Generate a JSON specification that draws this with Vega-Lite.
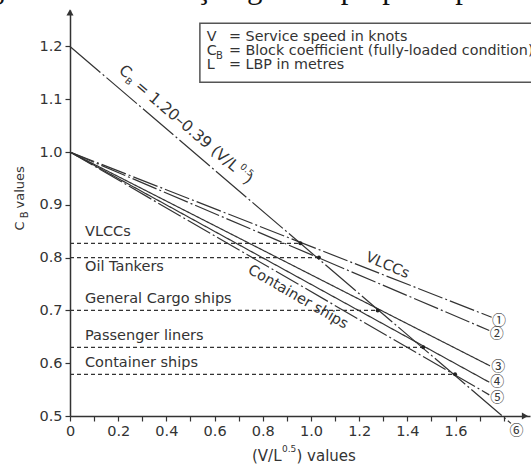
{
"$schema":"https://vega.github.io/schema/vega-lite/v6.json",
"width":460,"height":406,
"autosize":{"type":"none"},
"padding":{"left":70,"top":10,"right":1,"bottom":48},
"background":"white",
"config":{"view":{"stroke":null},"font":"DejaVu Sans","text":{"color":"#333"}},
"encoding":{
 "x":{"field":"x","type":"quantitative","scale":{"domain":[0,1.909],"nice":false,"zero":false},
  "axis":{"values":[0,0.1,0.2,0.3,0.4,0.5,0.6,0.7,0.8,0.9,1.0,1.1,1.2,1.3,1.4,1.5,1.6,1.7,1.8],
   "labelExpr":"(round(datum.value*10)%2==0 && datum.value<1.7) ? (datum.value==0 ? '0' : format(datum.value,'.1f')) : ''",
   "title":null,"grid":false,"tickSize":5,"tickWidth":1.2,"tickColor":"#333","domainColor":"#333","domainWidth":1.5,
   "labelFont":"DejaVu Sans","labelFontSize":14.5,"labelColor":"#333","labelPadding":3,"labelFlush":false,"labelOverlap":false,"labelBound":false}},
 "y":{"field":"y","type":"quantitative","scale":{"domain":[0.5,1.269],"nice":false,"zero":false},
  "axis":{"values":[0.5,0.6,0.7,0.8,0.9,1.0,1.1,1.2],"format":".1f","title":null,"grid":false,"tickSize":5,"tickWidth":1.2,
   "tickColor":"#333","domainColor":"#333","domainWidth":1.5,"labelFont":"DejaVu Sans","labelFontSize":14.5,"labelColor":"#333",
   "labelPadding":3,"labelFlush":false,"labelOverlap":false,"labelBound":false}}
},
"layer":[
 {"data":{"values":[{"x":-0.444,"y":1.292,"t":"Figura 6 – Intersecção gráfica proposta por"}]},
  "mark":{"type":"text","font":"Liberation Serif","fontSize":31,"align":"left","baseline":"alphabetic","color":"#111"},
  "encoding":{"text":{"field":"t"}}},
 {"data":{"values":[
   {"x":0,"x2":0.956,"y":0.827},{"x":0,"x2":1.033,"y":0.80},{"x":0,"x2":1.277,"y":0.70},
   {"x":0,"x2":1.466,"y":0.63},{"x":0,"x2":1.598,"y":0.579}]},
  "mark":{"type":"rule","color":"#333","strokeWidth":1.2,"strokeDash":[4,3]},
  "encoding":{"x2":{"field":"x2"}}},
 {"data":{"values":[
   {"id":"1","x":0,"y":1.0},{"id":"1","x":1.75,"y":0.687},
   {"id":"2","x":0,"y":1.0},{"id":"2","x":1.74,"y":0.662},
   {"id":"3","x":0,"y":1.0},{"id":"3","x":1.743,"y":0.595},
   {"id":"4","x":0,"y":1.0},{"id":"4","x":1.74,"y":0.564},
   {"id":"5","x":0,"y":1.0},{"id":"5","x":1.74,"y":0.54},
   {"id":"6","x":0,"y":1.2},{"id":"6","x":1.83,"y":0.486}]},
  "mark":{"type":"line","color":"#333","strokeWidth":1.2},
  "encoding":{"detail":{"field":"id","type":"nominal"},
   "strokeDash":{"field":"id","type":"nominal","legend":null,
    "scale":{"domain":["1","2","3","4","5","6"],"range":[[26,3,2,3],[26,3,2,3],[1,0],[1,0],[26,3,2,3],[40,3,2,3]]}}}},
 {"data":{"values":[{"x":0.956,"y":0.827},{"x":1.033,"y":0.80},{"x":1.277,"y":0.70},{"x":1.466,"y":0.63},{"x":1.598,"y":0.579}]},
  "mark":{"type":"point","filled":true,"size":16,"color":"#222","opacity":1}},
 {"data":{"values":[{"x":0.539,"x2":2.0,"y":1.244,"y2":1.132}]},
  "mark":{"type":"rect","fill":"white","stroke":"#555","strokeWidth":1.5},
  "encoding":{"x2":{"field":"x2"},"y2":{"field":"y2"}}},
 {"data":{"values":[
   {"x":0.0622,"y":0.848,"t":"VLCCs"},{"x":0.0622,"y":0.7816,"t":"Oil Tankers"},
   {"x":0.0622,"y":0.721,"t":"General Cargo ships"},{"x":0.0622,"y":0.651,"t":"Passenger liners"},
   {"x":0.0622,"y":0.600,"t":"Container ships"}]},
  "mark":{"type":"text","fontSize":14.5,"align":"left","baseline":"middle"},
  "encoding":{"text":{"field":"t"}}},
 {"data":{"values":[{"x":0.7552,"y":0.4237,"t":"(V/L"},{"x":0.9398,"y":0.4237,"t":") values"}]},
  "mark":{"type":"text","fontSize":15,"align":"left","baseline":"middle"},
  "encoding":{"text":{"field":"t"}}},
 {"data":{"values":[
   {"x":0.568,"y":1.2178,"t":"V"},{"x":0.568,"y":1.1913,"t":"C"},{"x":0.568,"y":1.1655,"t":"L"},
   {"x":0.660,"y":1.2178,"t":"= Service speed in knots"},
   {"x":0.660,"y":1.1913,"t":"= Block coefficient (fully-loaded condition)"},
   {"x":0.660,"y":1.1655,"t":"= LBP in metres"}]},
  "mark":{"type":"text","fontSize":14.3,"align":"left","baseline":"middle"},
  "encoding":{"text":{"field":"t"}}},
 {"data":{"values":[{"x":0.606,"y":1.182,"t":"B"}]},
  "mark":{"type":"text","fontSize":10,"align":"left","baseline":"middle"},
  "encoding":{"text":{"field":"t"}}},
 {"data":{"values":[{"x":0.8797,"y":0.4379,"t":"0.5"}]},
  "mark":{"type":"text","fontSize":9,"align":"left","baseline":"middle"},
  "encoding":{"text":{"field":"t"}}},
 {"data":{"values":[
   {"x":1.780,"y":0.680,"t":"①"},{"x":1.771,"y":0.656,"t":"②"},{"x":1.777,"y":0.593,"t":"③"},
   {"x":1.773,"y":0.564,"t":"④"},{"x":1.773,"y":0.535,"t":"⑤"},{"x":1.853,"y":0.471,"t":"⑥"}]},
  "mark":{"type":"text","fontSize":14,"align":"center","baseline":"middle","font":"Noto Sans CJK JP"},
  "encoding":{"text":{"field":"t"}}},
 {"data":{"values":[
   {"x":0.2126,"y":1.1591,"t":"C"},{"x":0.2801,"y":1.1290,"t":"= 1.20–0.39 (V/L"},{"x":0.730,"y":0.9519,"t":")"}]},
  "mark":{"type":"text","fontSize":15.5,"align":"left","baseline":"middle","angle":40.5},
  "encoding":{"text":{"field":"t"}}},
 {"data":{"values":[{"x":0.2331,"y":1.1373,"t":"B"},{"x":0.712,"y":0.9748,"t":"0.5"}]},
  "mark":{"type":"text","fontSize":9,"align":"left","baseline":"middle","angle":40.5},
  "encoding":{"text":{"field":"t"}}},
 {"data":{"values":[{"x":1.317,"y":0.7845,"t":"VLCCs"}]},
  "mark":{"type":"text","fontSize":14.5,"align":"center","baseline":"middle","angle":23},
  "encoding":{"text":{"field":"t"}}},
 {"data":{"values":[{"x":0.946,"y":0.7248,"t":"Container ships"}]},
  "mark":{"type":"text","fontSize":14.5,"align":"center","baseline":"middle","angle":30},
  "encoding":{"text":{"field":"t"}}},
 {"data":{"values":[{"x":-0.2075,"y":0.8513,"t":"C"},{"x":-0.2075,"y":0.893,"t":"values"}]},
  "mark":{"type":"text","fontSize":13,"align":"left","baseline":"middle","angle":270},
  "encoding":{"text":{"field":"t"}}},
 {"data":{"values":[{"x":-0.1867,"y":0.8744,"t":"B"}]},
  "mark":{"type":"text","fontSize":10,"align":"left","baseline":"middle","angle":270},
  "encoding":{"text":{"field":"t"}}},
 {"data":{"values":[{"x":0,"y":1.2646,"s":"up"}]},
  "mark":{"type":"point","shape":"triangle-up","filled":true,"size":50,"color":"#333","opacity":1}},
 {"data":{"values":[{"x":1.888,"y":0.5,"s":"right"}]},
  "mark":{"type":"point","shape":"triangle-right","filled":true,"size":50,"color":"#333","opacity":1}}
]
}
